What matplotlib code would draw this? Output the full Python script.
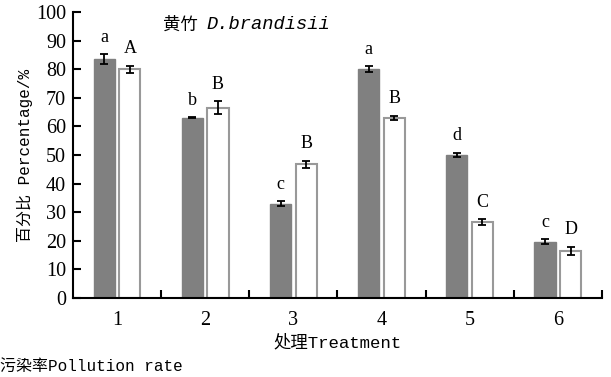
import numpy as np
import matplotlib.pyplot as plt

treatments = ["1", "2", "3", "4", "5", "6"]
dark_vals = [83.5, 63.0, 33.0, 80.0, 50.0, 19.7]
dark_err = [1.8, 0.2, 0.8, 1.0, 0.8, 0.8]
white_vals = [80.0, 66.5, 46.7, 63.0, 26.5, 16.5]
white_err = [1.2, 2.3, 1.2, 0.8, 1.0, 1.5]
dark_letters = ["a", "b", "c", "a", "d", "c"]
white_letters = ["A", "B", "B", "B", "C", "D"]

serif = ["Liberation Serif", "DejaVu Serif"]
mixed = ["Liberation Mono", "Noto Sans CJK SC"]

fig = plt.figure(figsize=(6.11, 3.77), dpi=100)
ax = fig.add_axes([0.1195, 0.2095, 0.8655, 0.7585])

x = np.arange(1, len(treatments) + 1)
w = 0.24
off = 0.145
ek = dict(ecolor="black", elinewidth=1.3, capsize=3, capthick=1.3)
ax.bar(x - off, dark_vals, w, color="#808080", edgecolor="#808080",
       yerr=dark_err, error_kw=ek, zorder=2)
ax.bar(x + off, white_vals, w, color="white", edgecolor="#999999", linewidth=1.5,
       yerr=white_err, error_kw=ek, zorder=2)

for i in range(len(x)):
    ax.text(x[i] - off, dark_vals[i] + dark_err[i] + 3, dark_letters[i],
            ha="center", va="bottom", fontsize=13, family=serif)
    ax.text(x[i] + off, white_vals[i] + white_err[i] + 3, white_letters[i],
            ha="center", va="bottom", fontsize=13, family=serif)

ax.set_xlim(0.5, 6.5)
ax.set_ylim(0, 100)
ax.set_yticks(range(0, 101, 10))
ax.set_xticks(x)
ax.set_xticklabels(treatments)
ax.set_xticks(np.arange(1.5, 6.6, 1), minor=True)
ax.tick_params(axis="x", which="major", length=0, pad=9)
ax.tick_params(axis="x", which="minor", direction="in", length=6, width=1.5)
ax.tick_params(axis="y", direction="in", length=6, width=1.5, pad=5)
for lab in ax.get_xticklabels() + ax.get_yticklabels():
    lab.set_family(serif)
    lab.set_fontsize(14.5)
ax.spines["top"].set_visible(False)
ax.spines["right"].set_visible(False)
ax.spines["left"].set_linewidth(1.5)
ax.spines["bottom"].set_linewidth(1.5)

ax.set_ylabel("百分比 Percentage/%", fontsize=11.5, family=mixed, labelpad=2)
ax.set_xlabel("处理Treatment", fontsize=12.5, family=mixed, labelpad=3)
ax.text(1.52, 95.5, "黄竹", fontsize=12.5, family=["Noto Sans CJK SC"], va="center")
ax.text(2.02, 95.5, "D.brandisii", fontsize=13.5, family=["Liberation Mono"],
        style="italic", va="center")
fig.text(0.0, 0.015, "污染率Pollution rate", fontsize=11.5, family=mixed, ha="left")

fig.savefig("out.png", dpi=100)
